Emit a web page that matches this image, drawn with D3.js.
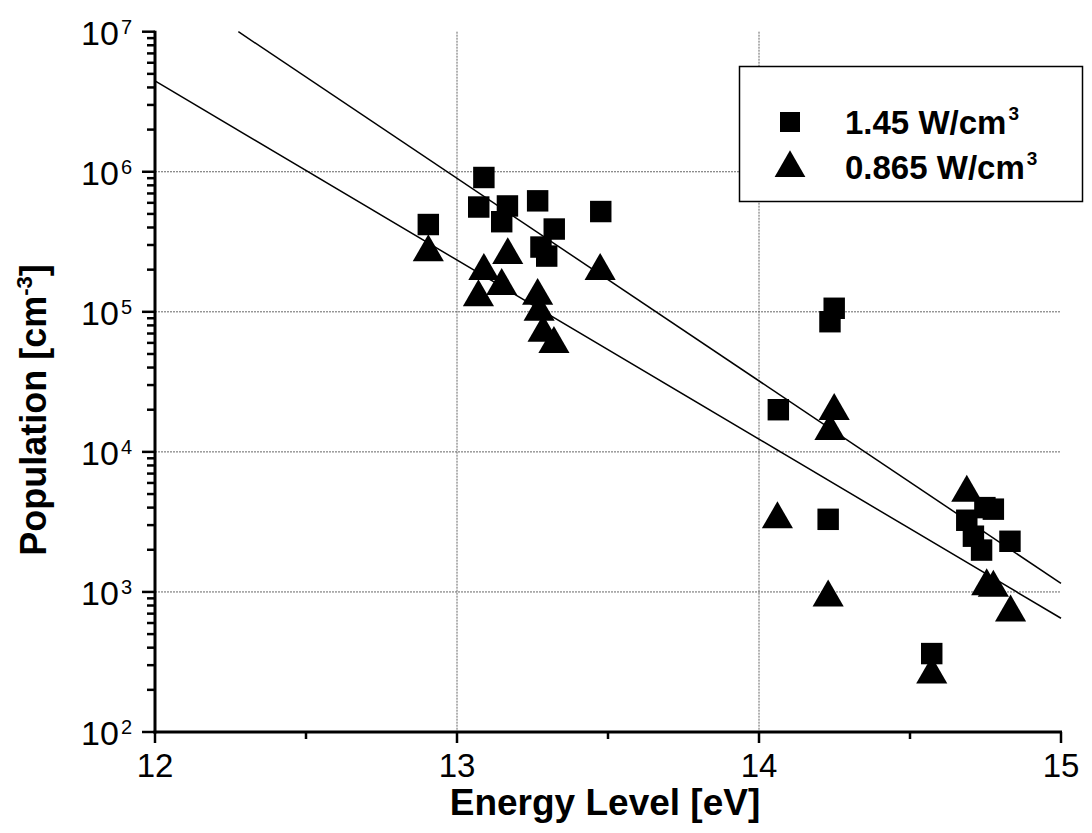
<!DOCTYPE html>
<html>
<head>
<meta charset="utf-8">
<script src="https://cdn.jsdelivr.net/npm/d3@7"></script>
<style>
  body { margin: 0; background: #fff; }
  svg { display: block; font-family: "Liberation Sans", Arial, sans-serif; }
</style>
</head>
<body>
<svg id="chart" width="1092" height="833"></svg>
<script>
// Squares: 1.45 W/cm3
var sqEnergy = [12.905, 13.089, 13.072, 13.167, 13.148, 13.267, 13.322, 13.278, 13.297, 13.476,
                14.249, 14.235, 14.064, 14.229, 14.572, 14.688, 14.710, 14.737, 14.748, 14.776, 14.831]
var sqPop = [4.2e5, 9.1e5, 5.6e5, 5.7e5, 4.4e5, 6.2e5, 3.9e5, 2.9e5, 2.5e5, 5.2e5,
             1.06e5, 8.5e4, 2.0e4, 3.3e3, 363, 3.25e3, 2.5e3, 1.99e3, 4.0e3, 3.9e3, 2.3e3]

// Triangles: 0.865 W/cm3
var triEnergy = [12.905, 13.089, 13.168, 13.148, 13.071, 13.267, 13.272, 13.285, 13.321, 13.474,
                 14.249, 14.235, 14.061, 14.688, 14.754, 14.776, 14.833, 14.229, 14.572]
var triPop = [2.66e5, 1.96e5, 2.54e5, 1.53e5, 1.27e5, 1.3e5, 1.0e5, 7.1e4, 5.9e4, 1.96e5,
              1.96e4, 1.41e4, 3.3e3, 5.1e3, 1.1e3, 1.07e3, 713, 912, 257]

// Fitted lines (end points)
var fitSqEnergy = [12.276, 15]
var fitSqPop = [1e7, 1150]
var fitTriEnergy = [12, 15]
var fitTriPop = [4.45e6, 649]

var xTicks = [12, 13, 14, 15]
var xMinorTicks = [12.5, 13.5, 14.5]
var yExponents = [2, 3, 4, 5, 6, 7]
var xGrid = [13, 14]
var yGrid = [1e3, 1e4, 1e5, 1e6]

var legendLabels = ['1.45 W/cm', '0.865 W/cm']

var svg = d3.select('#chart')

var x = d3.scaleLinear().domain([12, 15]).range([155, 1061])
var y = d3.scaleLog().domain([1e2, 1e7]).range([732, 31.7])

// grid
var grid = svg.append('g')
  .attr('stroke', '#666')
  .attr('stroke-width', 1)
  .attr('stroke-dasharray', '2,1')
grid.selectAll('.gy').data(yGrid).enter().append('line')
  .attr('x1', x(12)).attr('x2', x(15))
  .attr('y1', function(d) { return y(d) }).attr('y2', function(d) { return y(d) })
grid.selectAll('.gx').data(xGrid).enter().append('line')
  .attr('x1', function(d) { return x(d) }).attr('x2', function(d) { return x(d) })
  .attr('y1', y(1e7)).attr('y2', y(1e2))

// fit lines
var line = d3.line()
  .x(function(d) { return x(d[0]) })
  .y(function(d) { return y(d[1]) })

svg.append('path')
  .datum(d3.zip(fitSqEnergy, fitSqPop))
  .attr('fill', 'none').attr('stroke', '#000').attr('stroke-width', 1.5)
  .attr('d', line)
svg.append('path')
  .datum(d3.zip(fitTriEnergy, fitTriPop))
  .attr('fill', 'none').attr('stroke', '#000').attr('stroke-width', 1.5)
  .attr('d', line)

// markers
var square = d3.symbol().type(d3.symbolSquare).size(460)
var triangle = d3.symbol().type(d3.symbolTriangle).size(420)

svg.append('g').selectAll('path').data(d3.zip(triEnergy, triPop)).enter().append('path')
  .attr('d', triangle)
  .attr('transform', function(d) { return 'translate(' + x(d[0]) + ',' + y(d[1]) + ')' })
  .attr('fill', '#000')
svg.append('g').selectAll('path').data(d3.zip(sqEnergy, sqPop)).enter().append('path')
  .attr('d', square)
  .attr('transform', function(d) { return 'translate(' + x(d[0]) + ',' + y(d[1]) + ')' })
  .attr('fill', '#000')

// y axis with log minor ticks
var yMinor = []
yExponents.slice(0, -1).forEach(function(e) {
  for (var m = 2; m < 10; m++) yMinor.push(m * Math.pow(10, e))
})
var yAxis = svg.append('g')
yAxis.append('line')
  .attr('x1', x(12)).attr('x2', x(12))
  .attr('y1', y(1e7) - 1).attr('y2', y(1e2) + 1.5)
  .attr('stroke', '#000').attr('stroke-width', 3)
yAxis.selectAll('.maj').data(yExponents).enter().append('line')
  .attr('x1', x(12) - 13).attr('x2', x(12))
  .attr('y1', function(d) { return y(Math.pow(10, d)) })
  .attr('y2', function(d) { return y(Math.pow(10, d)) })
  .attr('stroke', '#000').attr('stroke-width', 2.5)
yAxis.selectAll('.min').data(yMinor).enter().append('line')
  .attr('x1', x(12) - 8).attr('x2', x(12))
  .attr('y1', function(d) { return y(d) }).attr('y2', function(d) { return y(d) })
  .attr('stroke', '#000').attr('stroke-width', 2.5)

yExponents.forEach(function(e) {
  var t = yAxis.append('text')
    .attr('x', 132)
    .attr('y', y(Math.pow(10, e)) + 13)
    .attr('text-anchor', 'end')
    .attr('font-size', 34)
    .attr('fill', '#000')
  t.append('tspan').text('10')
  t.append('tspan').attr('dy', -11).attr('dx', 2).attr('font-size', 20).text(e)
})

// x axis
var xAxis = svg.append('g')
xAxis.append('line')
  .attr('x1', x(12) - 1.5).attr('x2', x(15) + 1)
  .attr('y1', y(1e2)).attr('y2', y(1e2))
  .attr('stroke', '#000').attr('stroke-width', 3)
xAxis.selectAll('.maj').data(xTicks).enter().append('line')
  .attr('x1', function(d) { return x(d) }).attr('x2', function(d) { return x(d) })
  .attr('y1', y(1e2)).attr('y2', y(1e2) + 11)
  .attr('stroke', '#000').attr('stroke-width', 2.5)
xAxis.selectAll('.min').data(xMinorTicks).enter().append('line')
  .attr('x1', function(d) { return x(d) }).attr('x2', function(d) { return x(d) })
  .attr('y1', y(1e2)).attr('y2', y(1e2) + 7)
  .attr('stroke', '#000').attr('stroke-width', 2.5)
xAxis.selectAll('.lab').data(xTicks).enter().append('text')
  .attr('x', function(d) { return x(d) })
  .attr('y', 777)
  .attr('text-anchor', 'middle')
  .attr('font-size', 33)
  .attr('fill', '#000')
  .text(function(d) { return d })

// axis titles
svg.append('text')
  .attr('x', 605).attr('y', 815)
  .attr('text-anchor', 'middle')
  .attr('font-size', 37)
  .attr('font-weight', 'bold')
  .text('Energy Level [eV]')

var yt = svg.append('text')
  .attr('transform', 'translate(46,410) rotate(-90)')
  .attr('text-anchor', 'middle')
  .attr('font-size', 36)
  .attr('font-weight', 'bold')
yt.append('tspan').text('Population [cm')
yt.append('tspan').attr('dy', -14).attr('font-size', 22).text('-3')
yt.append('tspan').attr('dy', 14).text(']')

// legend
var legend = svg.append('g')
legend.append('rect')
  .attr('x', 739.5).attr('y', 66.5).attr('width', 343).attr('height', 135)
  .attr('fill', '#fff').attr('stroke', '#000').attr('stroke-width', 1.5)
legend.append('path').attr('d', d3.symbol().type(d3.symbolSquare).size(400))
  .attr('transform', 'translate(790,122)')
legend.append('path').attr('d', d3.symbol().type(d3.symbolTriangle).size(410))
  .attr('transform', 'translate(790,168)')
legendLabels.forEach(function(lab, i) {
  var t = legend.append('text')
    .attr('x', 845).attr('y', 134 + i * 45)
    .attr('font-size', 33)
    .attr('font-weight', 'bold')
  t.append('tspan').text(lab)
  t.append('tspan').attr('dy', -14).attr('dx', 2).attr('font-size', 19).text('3')
})
</script>
</body>
</html>
